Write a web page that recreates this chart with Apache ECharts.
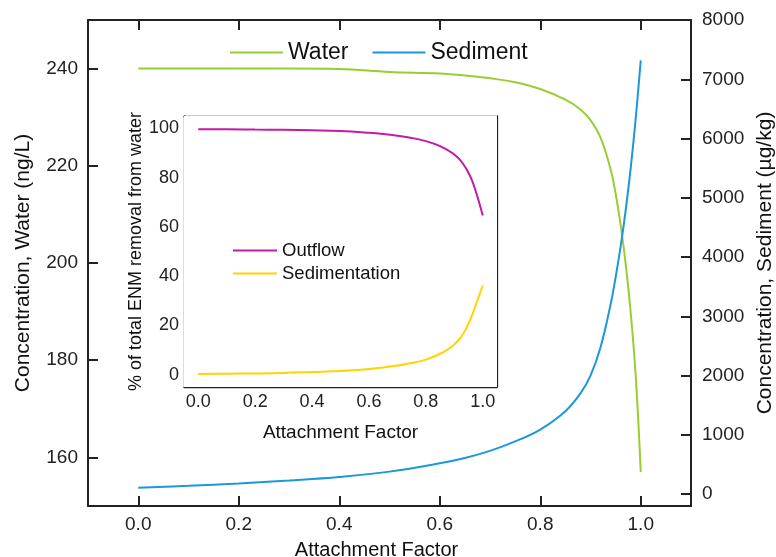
<!DOCTYPE html>
<html>
<head>
<meta charset="utf-8">
<script src="https://cdn.jsdelivr.net/npm/echarts@6/dist/echarts.min.js"></script>
<style>
html,body{margin:0;padding:0;background:#fff;}
#chart{width:776px;height:557px;}
</style>
</head>
<body>
<div id="chart"></div>
<script>
// attachment factor (x) shared by all curves
var factor=[0,0.1,0.2,0.3,0.4,0.5,0.6,0.65,0.7,0.75,0.8,0.85,0.88,0.9,0.92,0.94,0.95,0.96,0.97,0.98,0.99,1.0];
// main chart
var water=[240,240,240,240,239.9,239.3,239,238.6,238,237.2,235.8,233.6,231.6,229.4,225.8,219.3,214.3,207.8,199.8,189.8,176.8,157];
var sediment=[110,140,180,230,290,380,520,610,730,890,1090,1400,1700,2000,2480,3200,3660,4180,4790,5500,6340,7320];
// inset
var outflow=[99.6,99.6,99.5,99.4,99.2,98.9,98.2,97.7,97,96.1,94.8,92.8,90.9,89.4,87.2,84,81.9,79.5,76.4,72.7,68.8,64.6];
var sedimentation=[0.3,0.4,0.5,0.7,1.1,1.5,2.3,2.9,3.7,4.7,6.1,8.5,10.5,12.3,14.7,18.3,20.8,23.5,26.5,29.8,33,36.2];
// tick labels
var xTicks=[0,0.2,0.4,0.6,0.8,1.0];
var waterTicks=[160,180,200,220,240];
var sedTicks=[0,1000,2000,3000,4000,5000,6000,7000,8000];
var pctTicks=[0,20,40,60,80,100];

var font="'Liberation Sans', Arial, sans-serif";

function pairs(ys){
	var out=[];
	for(var i=0;i<factor.length;i++){
		out.push([factor[i],ys[i]]);
	}
	return out;
}

// 轴的公共样式
function axisBase(gridIndex,pos,min,max,ticks,lw,tl,fs,showLabel,margin){
	return {
		type:'value',gridIndex:gridIndex,position:pos,min:min,max:max,
		axisLine:{show:true,onZero:false,lineStyle:{color:'#222',width:lw}},
		axisTick:{show:true,inside:true,length:tl,customValues:ticks,lineStyle:{color:'#222',width:lw}},
		axisLabel:{show:showLabel,customValues:ticks,color:'#222',fontSize:fs,fontFamily:font,margin:margin,
			formatter:function(v){ return (max<2)?v.toFixed(1):String(v); }},
		splitLine:{show:false}
	};
}

var chart=echarts.init(document.getElementById('chart'));

var xMain=axisBase(0,'bottom',-0.1,1.1,xTicks,2,10,19,true,9);
xMain.name='Attachment Factor';
xMain.nameLocation='middle';
xMain.nameGap=34;
xMain.nameTextStyle={fontSize:20,color:'#111',fontFamily:font,padding:[0,26,0,0]};

var xMainTop=axisBase(0,'top',-0.1,1.1,xTicks,2,10,19,false,9);

var yWater=axisBase(0,'left',150,250,waterTicks,2,10,19,true,10);
yWater.name='Concentration, Water (ng/L)';
yWater.nameLocation='middle';
yWater.nameGap=54;
yWater.nameTextStyle={fontSize:21,color:'#111',fontFamily:font};

var ySed=axisBase(0,'right',-200,8000,sedTicks,2,10,19,true,11);
ySed.name='Concentration, Sediment (\u00b5g/kg)';
ySed.nameLocation='middle';
ySed.nameGap=58;
ySed.nameRotate=90;
ySed.nameTextStyle={fontSize:21,color:'#111',fontFamily:font};

var xIn=axisBase(1,'bottom',-0.05,1.05,xTicks,1.3,5,18,true,6);
xIn.name='Attachment Factor';
xIn.nameLocation='middle';
xIn.nameGap=36;
xIn.nameTextStyle={fontSize:19,color:'#111',fontFamily:font};

var xInTop=axisBase(1,'top',-0.05,1.05,xTicks,1.3,5,18,false,6);

var yIn=axisBase(1,'left',-5,105,pctTicks,1.3,5,18,true,5);
yIn.name='% of total ENM removal from water';
yIn.nameLocation='middle';
yIn.nameGap=38;
yIn.nameTextStyle={fontSize:18,color:'#111',fontFamily:font};

var yInRight=axisBase(1,'right',-5,105,pctTicks,1.3,5,18,false,5);

var option={
	backgroundColor:'#fff',
	animation:false,
	grid:[
		{left:88,top:20,width:603,height:486,containLabel:false,outerBoundsMode:'none'},
		{left:184,top:116,width:313,height:271,containLabel:false,outerBoundsMode:'none',
			show:true,backgroundColor:'#fff',borderWidth:0,z:5}
	],
	legend:[
		{
			data:[{name:'Water',icon:'rect'},{name:'Sediment',icon:'rect'}],
			left:225,top:36,itemWidth:53,itemHeight:2,itemGap:24,
			textStyle:{fontSize:23,color:'#111',fontFamily:font}
		},
		{
			data:[{name:'Outflow',icon:'rect'},{name:'Sedimentation',icon:'rect'}],
			orient:'vertical',left:228,top:236,itemWidth:44,itemHeight:2,itemGap:4,
			textStyle:{fontSize:18.5,color:'#111',fontFamily:font},z:10
		}
	],
	xAxis:[xMain,xMainTop,xIn,xInTop],
	yAxis:[yWater,ySed,yIn,yInRight],
	series:[
		{name:'Water',type:'line',xAxisIndex:0,yAxisIndex:0,data:pairs(water),symbol:'none',
			smooth:0.4,lineStyle:{color:'#9acd32',width:2},itemStyle:{color:'#9acd32'}},
		{name:'Sediment',type:'line',xAxisIndex:0,yAxisIndex:1,data:pairs(sediment),symbol:'none',
			smooth:0.4,lineStyle:{color:'#1c98d9',width:2},itemStyle:{color:'#1c98d9'}},
		{name:'Outflow',type:'line',xAxisIndex:2,yAxisIndex:2,data:pairs(outflow),symbol:'none',z:10,
			smooth:0.4,lineStyle:{color:'#c41aa6',width:2},itemStyle:{color:'#c41aa6'}},
		{name:'Sedimentation',type:'line',xAxisIndex:2,yAxisIndex:2,data:pairs(sedimentation),symbol:'none',z:10,
			smooth:0.4,lineStyle:{color:'#ffd400',width:2},itemStyle:{color:'#ffd400'}}
	]
};
chart.setOption(option);
</script>
</body>
</html>
